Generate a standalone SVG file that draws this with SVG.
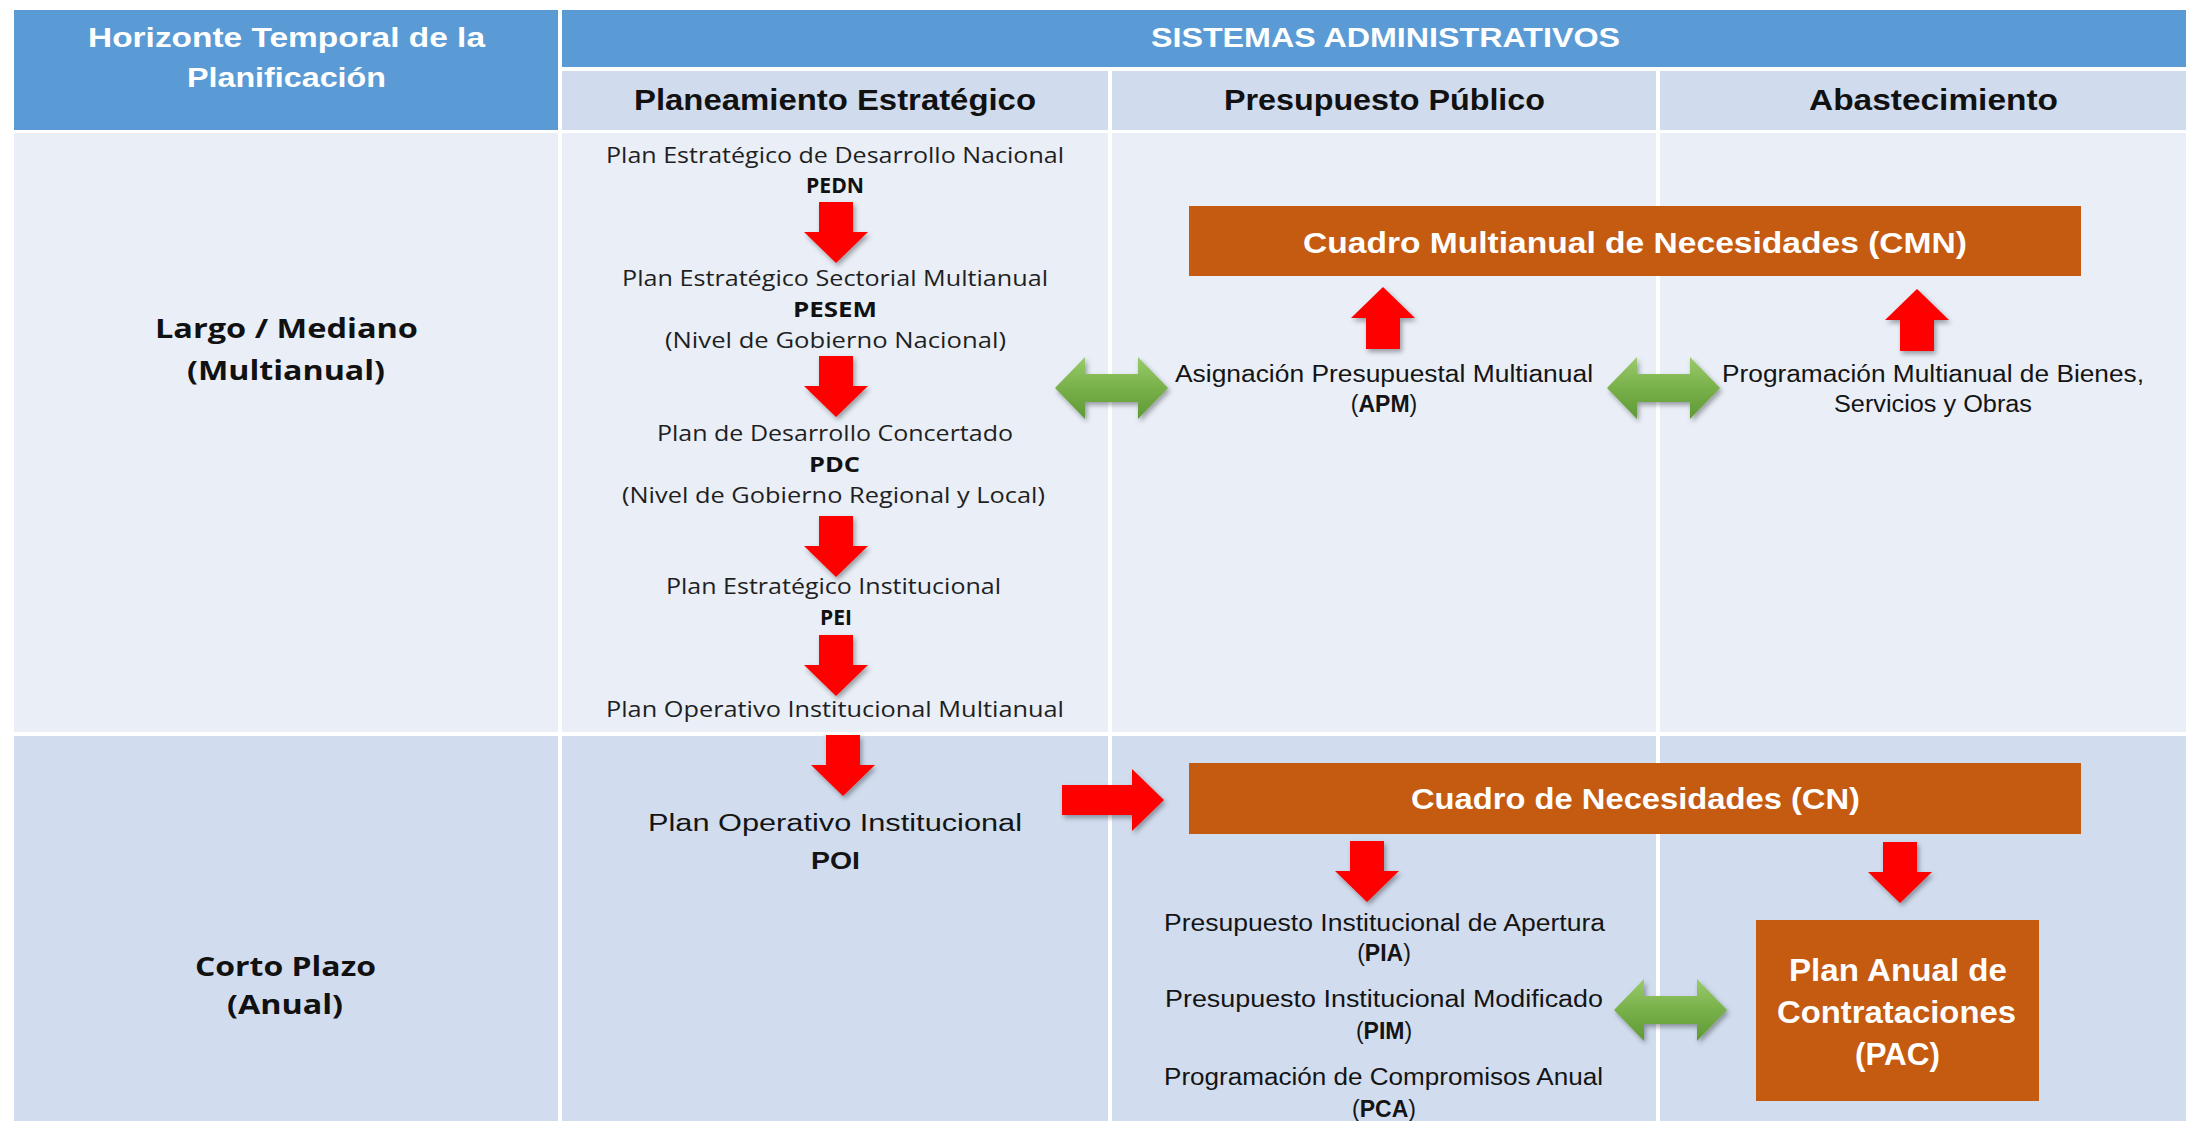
<svg xmlns="http://www.w3.org/2000/svg" width="2186" height="1121" viewBox="0 0 2186 1121">
<style>
.hb{fill:#5B9BD5}
.sb{fill:#D0DBEE}
.r1{fill:#E9EEF7}
.r2{fill:#D1DDEF}
.box{fill:#C55A11}
.wt{font-family:"Liberation Sans",Arial,sans-serif;font-weight:bold;fill:#FFFFFF}
.st{font-family:"Liberation Sans",Arial,sans-serif;font-weight:bold;fill:#111111;font-size:29px}
.lt{font-family:"Open Sans","Liberation Sans",sans-serif;font-weight:bold;fill:#111111;font-size:26px}
.pe{font-family:"Open Sans","Liberation Sans",sans-serif;fill:#1f1f1f;font-size:21px}
.peb{font-family:"Open Sans","Liberation Sans",sans-serif;fill:#111111;font-size:21px;font-weight:bold}
.pp{font-family:"Liberation Sans",Arial,sans-serif;fill:#141414;font-size:23px}
.red{fill:#FF0000;filter:url(#sh)}
.grn{fill:url(#gg);filter:url(#sh)}
</style>
<defs>
<filter id="sh" x="-30%" y="-30%" width="160%" height="160%">
<feDropShadow dx="2" dy="3" stdDeviation="2.5" flood-color="#000" flood-opacity="0.35"/>
</filter>
<linearGradient id="gg" x1="0" y1="0" x2="0" y2="1">
<stop offset="0" stop-color="#9ACB6B"/>
<stop offset="0.5" stop-color="#78B04A"/>
<stop offset="1" stop-color="#5F9A36"/>
</linearGradient>
</defs>
<rect x="0" y="0" width="2186" height="1121" fill="#FFFFFF"/>

<g id="table">
<rect class="hb" x="14" y="10" width="544" height="120"/>
<rect class="hb" x="562" y="10" width="1624" height="57"/>
<rect class="sb" x="562" y="71" width="546" height="59"/>
<rect class="sb" x="1112" y="71" width="544" height="59"/>
<rect class="sb" x="1660" y="71" width="526" height="59"/>
<rect class="r1" x="14" y="133" width="544" height="599"/>
<rect class="r1" x="562" y="133" width="546" height="599"/>
<rect class="r1" x="1112" y="133" width="544" height="599"/>
<rect class="r1" x="1660" y="133" width="526" height="599"/>
<rect class="r2" x="14" y="736" width="544" height="385"/>
<rect class="r2" x="562" y="736" width="546" height="385"/>
<rect class="r2" x="1112" y="736" width="544" height="385"/>
<rect class="r2" x="1660" y="736" width="526" height="385"/>
</g>

<g id="headers">
<text class="wt" font-size="27" x="88" y="47" textLength="397" lengthAdjust="spacingAndGlyphs">Horizonte Temporal de la</text>
<text class="wt" font-size="27" x="187" y="87" textLength="199" lengthAdjust="spacingAndGlyphs">Planificación</text>
<text class="wt" font-size="27" x="1151" y="47" textLength="469" lengthAdjust="spacingAndGlyphs">SISTEMAS ADMINISTRATIVOS</text>
<text class="st" x="634" y="110" textLength="402" lengthAdjust="spacingAndGlyphs">Planeamiento Estratégico</text>
<text class="st" x="1224" y="110" textLength="321" lengthAdjust="spacingAndGlyphs">Presupuesto Público</text>
<text class="st" x="1809" y="110" textLength="249" lengthAdjust="spacingAndGlyphs">Abastecimiento</text>
</g>

<g id="horizon-largo">
<text class="lt" x="155" y="338" textLength="263" lengthAdjust="spacingAndGlyphs">Largo / Mediano</text>
<text class="lt" x="187" y="380" textLength="198" lengthAdjust="spacingAndGlyphs">(Multianual)</text>
</g>
<g id="horizon-corto">
<text class="lt" x="195" y="976" textLength="181" lengthAdjust="spacingAndGlyphs">Corto Plazo</text>
<text class="lt" x="227" y="1014" textLength="116" lengthAdjust="spacingAndGlyphs">(Anual)</text>
</g>

<g id="pedn">
<text class="pe" x="606" y="163" textLength="458" lengthAdjust="spacingAndGlyphs">Plan Estratégico de Desarrollo Nacional</text>
<text class="peb" x="806" y="193" textLength="58" lengthAdjust="spacingAndGlyphs">PEDN</text>
</g>
<g id="pesem">
<text class="pe" x="622" y="286" textLength="426" lengthAdjust="spacingAndGlyphs">Plan Estratégico Sectorial Multianual</text>
<text class="peb" x="793" y="317" textLength="84" lengthAdjust="spacingAndGlyphs">PESEM</text>
<text class="pe" x="665" y="348" textLength="341" lengthAdjust="spacingAndGlyphs">(Nivel de Gobierno Nacional)</text>
</g>
<g id="pdc">
<text class="pe" x="657" y="441" textLength="356" lengthAdjust="spacingAndGlyphs">Plan de Desarrollo Concertado</text>
<text class="peb" x="809" y="472" textLength="51" lengthAdjust="spacingAndGlyphs">PDC</text>
<text class="pe" x="622" y="503" textLength="423" lengthAdjust="spacingAndGlyphs">(Nivel de Gobierno Regional y Local)</text>
</g>
<g id="pei">
<text class="pe" x="666" y="594" textLength="335" lengthAdjust="spacingAndGlyphs">Plan Estratégico Institucional</text>
<text class="peb" x="820" y="625" textLength="32" lengthAdjust="spacingAndGlyphs">PEI</text>
</g>
<g id="poim">
<text class="pe" x="606" y="717" textLength="458" lengthAdjust="spacingAndGlyphs">Plan Operativo Institucional Multianual</text>
</g>
<g id="poi">
<text class="pp" font-size="27" x="648" y="831" textLength="374" lengthAdjust="spacingAndGlyphs">Plan Operativo Institucional</text>
<text class="pp" font-size="27" font-weight="bold" x="811" y="869" textLength="49" lengthAdjust="spacingAndGlyphs">POI</text>
</g>

<g id="cmn">
<rect class="box" x="1189" y="206" width="892" height="70"/>
<text class="wt" font-size="29" x="1303" y="253" textLength="664" lengthAdjust="spacingAndGlyphs">Cuadro Multianual de Necesidades (CMN)</text>
</g>
<g id="apm">
<text class="pp" x="1175" y="382" textLength="418" lengthAdjust="spacingAndGlyphs">Asignación Presupuestal Multianual</text>
<text class="pp" x="1384" y="412" text-anchor="middle">(<tspan font-weight="bold">APM</tspan>)</text>
</g>
<g id="pmbso">
<text class="pp" x="1722" y="382" textLength="422" lengthAdjust="spacingAndGlyphs">Programación Multianual de Bienes,</text>
<text class="pp" x="1834" y="412" textLength="198" lengthAdjust="spacingAndGlyphs">Servicios y Obras</text>
</g>
<g id="cn">
<rect class="box" x="1189" y="763" width="892" height="71"/>
<text class="wt" font-size="29" x="1411" y="809" textLength="449" lengthAdjust="spacingAndGlyphs">Cuadro de Necesidades (CN)</text>
</g>
<g id="pia">
<text class="pp" x="1164" y="931" textLength="441" lengthAdjust="spacingAndGlyphs">Presupuesto Institucional de Apertura</text>
<text class="pp" x="1384" y="961" text-anchor="middle">(<tspan font-weight="bold">PIA</tspan>)</text>
</g>
<g id="pim">
<text class="pp" x="1165" y="1007" textLength="438" lengthAdjust="spacingAndGlyphs">Presupuesto Institucional Modificado</text>
<text class="pp" x="1384" y="1039" text-anchor="middle">(<tspan font-weight="bold">PIM</tspan>)</text>
</g>
<g id="pca">
<text class="pp" x="1164" y="1085" textLength="439" lengthAdjust="spacingAndGlyphs">Programación de Compromisos Anual</text>
<text class="pp" x="1384" y="1117" text-anchor="middle">(<tspan font-weight="bold">PCA</tspan>)</text>
</g>
<g id="pac">
<rect class="box" x="1756" y="920" width="283" height="181"/>
<text class="wt" font-size="31" x="1789" y="981" textLength="218" lengthAdjust="spacingAndGlyphs">Plan Anual de</text>
<text class="wt" font-size="31" x="1777" y="1023" textLength="239" lengthAdjust="spacingAndGlyphs">Contrataciones</text>
<text class="wt" font-size="31" x="1855" y="1065" textLength="85" lengthAdjust="spacingAndGlyphs">(PAC)</text>
</g>

<g id="connectors">
<path class="red" d="M819,202H853V232H868L836,263L804,232H819Z"/>
<path class="red" d="M819,356H853V386H868L836,417L804,386H819Z"/>
<path class="red" d="M819,516H853V546H868L836,577L804,546H819Z"/>
<path class="red" d="M819,635H853V665H868L836,696L804,665H819Z"/>
<path class="red" d="M826,735H860V765H875L843,796L811,765H826Z"/>
<path class="red" d="M1383,287L1415,318H1400V349H1366V318H1351Z"/>
<path class="red" d="M1917,289L1949,320H1934V351H1900V320H1885Z"/>
<path class="red" d="M1350,841H1384V871H1399L1367,902L1335,871H1350Z"/>
<path class="red" d="M1883,842H1917V872H1932L1900,903L1868,872H1883Z"/>
<path class="red" d="M1062,785H1132V769L1164,800L1132,831V815H1062Z"/>
<path class="grn" d="M1055,388L1085,357V374H1138V357L1168,388L1138,419V402H1085V419Z"/>
<path class="grn" d="M1607,388L1637,357V374H1690V357L1720,388L1690,419V402H1637V419Z"/>
<path class="grn" d="M1614,1010L1644,979V996H1697V979L1727,1010L1697,1041V1024H1644V1041Z"/>
</g>
</svg>
